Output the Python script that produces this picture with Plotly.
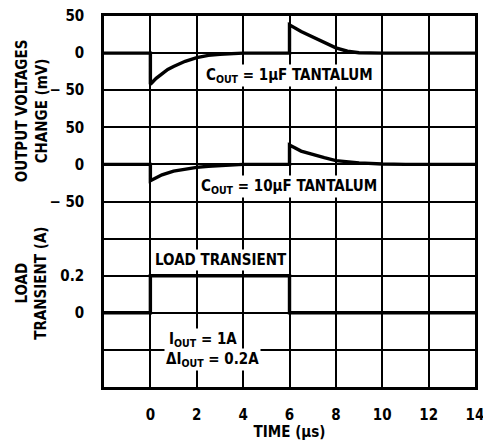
import plotly.graph_objects as go

# --- data ---
t_1uF = [-2, 0, 0, 0.25, 0.5, 0.75, 1, 1.5, 2, 2.5, 3, 3.5, 4, 6, 6, 6.5, 7, 7.5, 8, 8.5, 9, 10, 14]
v_1uF = [0, 0, -42, -34, -28, -22, -18, -11, -6, -3, -1.5, -0.5, 0, 0, 38, 29, 22, 14, 7, 2.5, 0.5, 0, 0]

t_10uF = [-2, 0, 0, 0.5, 1, 1.5, 2, 2.5, 3, 4, 6, 6, 6.5, 7, 7.5, 8, 8.5, 9, 10, 11, 14]
v_10uF = [0, 0, -22, -14, -9, -6, -4, -2.5, -1.5, 0, 0, 26, 18, 13, 9, 5, 3, 2, 0.5, 0, 0]

t_load = [-2, 0, 0, 6, 6, 14]
i_load = [0, 0, 0.2, 0.2, 0, 0]

x_ticks = [0, 2, 4, 6, 8, 10, 12, 14]
# labelled grid rows (bottom=0 ... top=10)
y_label_rows = [2, 3, 5, 6, 7, 8, 9, 10]
y_row_labels = ["0", "0.2", "\u2212 50", "0", "50", "\u2212 50", "0", "50"]

# panel offsets (grid rows) and scales
TOP_ZERO, MID_ZERO, LOAD_ZERO = 9, 6, 2
MV_PER_ROW, A_PER_ROW = 50.0, 0.2

FONT = "DejaVu Sans Condensed, Liberation Sans Narrow, Arial Narrow, sans-serif"
LINE = dict(color="black", width=3.4)
BIG = dict(family=FONT, size=15, color="black", weight="bold")

fig = go.Figure()
fig.add_trace(go.Scatter(x=t_1uF, y=[TOP_ZERO + v / MV_PER_ROW for v in v_1uF],
                         mode="lines", line=LINE))
fig.add_trace(go.Scatter(x=t_10uF, y=[MID_ZERO + v / MV_PER_ROW for v in v_10uF],
                         mode="lines", line=LINE))
fig.add_trace(go.Scatter(x=t_load, y=[LOAD_ZERO + i / A_PER_ROW for i in i_load],
                         mode="lines", line=LINE))

ann = [
    dict(x=2.3, y=8.4, text="C<sub>OUT</sub> = 1\u03bcF TANTALUM"),
    dict(x=2.1, y=5.4, text="C<sub>OUT</sub> = 10\u03bcF TANTALUM"),
    dict(x=0.1, y=3.42, text="LOAD TRANSIENT"),
    dict(x=0.7, y=1.27, text="I<sub>OUT</sub> = 1A"),
    dict(x=0.6, y=0.75, text="\u0394I<sub>OUT</sub> = 0.2A"),
]
for a in ann:
    fig.add_annotation(x=a["x"], y=a["y"], text=a["text"], xref="x", yref="y",
                       xanchor="left", yanchor="middle", showarrow=False,
                       bgcolor="white", borderpad=1, font=BIG)

fig.add_annotation(xref="paper", yref="paper", x=-0.195, y=0.745, xanchor="center", yanchor="middle",
                   text="OUTPUT VOLTAGES<br>CHANGE (mV)", textangle=-90, showarrow=False, font=BIG)
fig.add_annotation(xref="paper", yref="paper", x=-0.195, y=0.28, xanchor="center", yanchor="middle",
                   text="LOAD<br>TRANSIENT (A)", textangle=-90, showarrow=False, font=BIG)

fig.update_layout(
    width=483, height=441,
    margin=dict(l=104, r=8, t=16, b=54),
    paper_bgcolor="white", plot_bgcolor="white",
    showlegend=False,
    font=BIG,
    xaxis=dict(range=[-2, 14], tickmode="array", tickvals=x_ticks,
               ticktext=[str(v) for v in x_ticks], automargin=False,
               ticklabeloverflow="allow",
               showgrid=True, gridcolor="black", gridwidth=1.5,
               showline=True, linecolor="black", linewidth=2.5, mirror=True,
               zeroline=False, ticks="", ticklabelstandoff=12, tickfont=BIG,
               title=dict(text="TIME (\u03bcs)", standoff=4, font=BIG)),
    yaxis=dict(range=[0, 10], tickmode="array", tickvals=y_label_rows, ticktext=y_row_labels,
               automargin=False, ticklabeloverflow="allow",
               showgrid=True, gridcolor="black", gridwidth=1.5,
               minor=dict(dtick=1, tick0=0, showgrid=True, gridcolor="black", gridwidth=1.5),
               showline=True, linecolor="black", linewidth=2.5, mirror=True,
               zeroline=False, ticks="", ticklabelstandoff=14, tickfont=BIG),
)
fig.write_html("out.html")
